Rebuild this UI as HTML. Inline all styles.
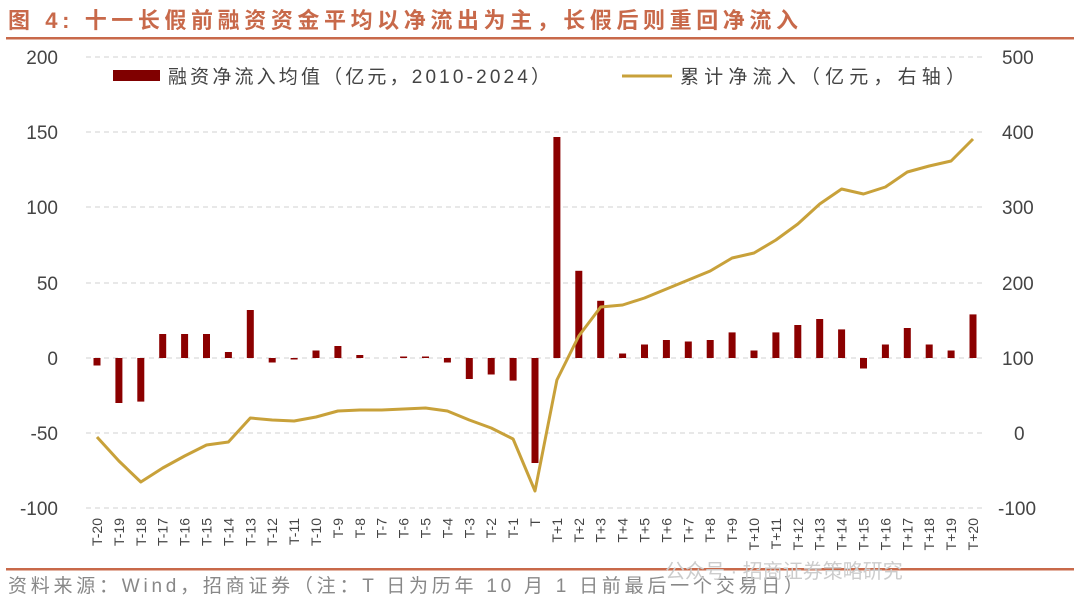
<!DOCTYPE html>
<html><head><meta charset="utf-8"><style>
body{margin:0;background:#fff;}
svg{display:block;font-family:"Liberation Sans","Noto Sans CJK SC",sans-serif;}
</style></head><body>
<svg width="1080" height="612" viewBox="0 0 1080 612">
<text x="8" y="28" font-size="22" font-weight="bold" fill="#c8694a" textLength="790" lengthAdjust="spacing">图 4:  十一长假前融资资金平均以净流出为主，长假后则重回净流入</text>
<rect x="6" y="37" width="1068" height="2.5" fill="#c8694a"/>
<rect x="6" y="568" width="1068" height="2.5" fill="#c8694a"/>
<text x="8" y="592" font-size="19" fill="#888" textLength="795" lengthAdjust="spacing">资料来源：Wind，招商证券（注：T 日为历年 10 月 1 日前最后一个交易日）</text>
<text x="665" y="578" font-size="20" fill="#ccc">公众号 · 招商证券策略研究</text>
<g stroke="#d0d0d0" stroke-dasharray="5,4" stroke-width="1">
<line x1="86" x2="984" y1="57" y2="57"/><line x1="86" x2="984" y1="132" y2="132"/><line x1="86" x2="984" y1="207" y2="207"/><line x1="86" x2="984" y1="283" y2="283"/><line x1="86" x2="984" y1="358" y2="358"/><line x1="86" x2="984" y1="433" y2="433"/><line x1="86" x2="984" y1="508" y2="508"/>
</g>
<g font-size="19" fill="#444" text-anchor="end">
<text x="58" y="64">200</text><text x="58" y="139">150</text><text x="58" y="214">100</text><text x="58" y="290">50</text><text x="58" y="365">0</text><text x="58" y="440">-50</text><text x="58" y="515">-100</text>
</g>
<g font-size="19" fill="#444">
<text x="1002" y="64">500</text><text x="1002" y="139">400</text><text x="1002" y="214">300</text><text x="1002" y="290">200</text><text x="1002" y="365">100</text><text x="1014" y="440">0</text><text x="998" y="515">-100</text>
</g>
<rect x="113" y="70" width="47" height="11" fill="#800000"/>
<text x="168" y="83" font-size="19" fill="#444" textLength="382" lengthAdjust="spacing">融资净流入均值（亿元，2010-2024）</text>
<line x1="622" x2="672" y1="76" y2="76" stroke="#c8a13a" stroke-width="3"/>
<text x="680" y="83" font-size="19" fill="#444" textLength="285" lengthAdjust="spacing">累计净流入（亿元，右轴）</text>
<g fill="#8b0000">
<rect x="93.5" y="358" width="7" height="7.5"/>
<rect x="115.4" y="358" width="7" height="45"/>
<rect x="137.3" y="358" width="7" height="43.6"/>
<rect x="159.2" y="334" width="7" height="24"/>
<rect x="181.1" y="334" width="7" height="24"/>
<rect x="203" y="334" width="7" height="24"/>
<rect x="224.9" y="352" width="7" height="6"/>
<rect x="246.8" y="310" width="7" height="48"/>
<rect x="268.7" y="358" width="7" height="4.5"/>
<rect x="290.6" y="358" width="7" height="1.5"/>
<rect x="312.5" y="350.5" width="7" height="7.5"/>
<rect x="334.4" y="346" width="7" height="12"/>
<rect x="356.3" y="355" width="7" height="3"/>
<rect x="400.1" y="356.5" width="7" height="1.5"/>
<rect x="422" y="356.5" width="7" height="1.5"/>
<rect x="443.9" y="358" width="7" height="4.5"/>
<rect x="465.8" y="358" width="7" height="21"/>
<rect x="487.7" y="358" width="7" height="16.5"/>
<rect x="509.6" y="358" width="7" height="22.6"/>
<rect x="531.5" y="358" width="7" height="105"/>
<rect x="553.4" y="137" width="7" height="221"/>
<rect x="575.3" y="270.8" width="7" height="87.2"/>
<rect x="597.2" y="300.8" width="7" height="57.2"/>
<rect x="619.1" y="353.5" width="7" height="4.5"/>
<rect x="641" y="344.5" width="7" height="13.5"/>
<rect x="662.9" y="340" width="7" height="18"/>
<rect x="684.8" y="341.5" width="7" height="16.5"/>
<rect x="706.7" y="340" width="7" height="18"/>
<rect x="728.6" y="332.4" width="7" height="25.6"/>
<rect x="750.5" y="350.5" width="7" height="7.5"/>
<rect x="772.4" y="332.4" width="7" height="25.6"/>
<rect x="794.3" y="325" width="7" height="33"/>
<rect x="816.2" y="319" width="7" height="39"/>
<rect x="838.1" y="329.4" width="7" height="28.6"/>
<rect x="860" y="358" width="7" height="10.5"/>
<rect x="881.9" y="344.5" width="7" height="13.5"/>
<rect x="903.8" y="328" width="7" height="30"/>
<rect x="925.7" y="344.5" width="7" height="13.5"/>
<rect x="947.6" y="350.5" width="7" height="7.5"/>
<rect x="969.5" y="314.4" width="7" height="43.6"/>
</g>
<polyline fill="none" stroke="#c8a13a" stroke-width="3" stroke-linejoin="round" points="97,437 118.9,461 140.8,482 162.7,468 184.6,456 206.5,445 228.4,442 250.3,418 272.2,420 294.1,421 316,417 337.9,411 359.8,410 381.7,410 403.6,409 425.5,408 447.4,411 469.3,420 491.2,428 513.1,439 535,491 556.9,380 578.8,336 600.7,307 622.6,305 644.5,298 666.4,289 688.3,280 710.2,271 732.1,258 754,253 775.9,240 797.8,224 819.7,204 841.6,189 863.5,194 885.4,187 907.3,172 929.2,166 951.1,161 973,139"/>
<g font-size="14" fill="#444" text-anchor="end">
<text transform="translate(102,518) rotate(-90)">T-20</text>
<text transform="translate(123.9,518) rotate(-90)">T-19</text>
<text transform="translate(145.8,518) rotate(-90)">T-18</text>
<text transform="translate(167.7,518) rotate(-90)">T-17</text>
<text transform="translate(189.6,518) rotate(-90)">T-16</text>
<text transform="translate(211.5,518) rotate(-90)">T-15</text>
<text transform="translate(233.4,518) rotate(-90)">T-14</text>
<text transform="translate(255.3,518) rotate(-90)">T-13</text>
<text transform="translate(277.2,518) rotate(-90)">T-12</text>
<text transform="translate(299.1,518) rotate(-90)">T-11</text>
<text transform="translate(321,518) rotate(-90)">T-10</text>
<text transform="translate(342.9,518) rotate(-90)">T-9</text>
<text transform="translate(364.8,518) rotate(-90)">T-8</text>
<text transform="translate(386.7,518) rotate(-90)">T-7</text>
<text transform="translate(408.6,518) rotate(-90)">T-6</text>
<text transform="translate(430.5,518) rotate(-90)">T-5</text>
<text transform="translate(452.4,518) rotate(-90)">T-4</text>
<text transform="translate(474.3,518) rotate(-90)">T-3</text>
<text transform="translate(496.2,518) rotate(-90)">T-2</text>
<text transform="translate(518.1,518) rotate(-90)">T-1</text>
<text transform="translate(540,518) rotate(-90)">T</text>
<text transform="translate(561.9,518) rotate(-90)">T+1</text>
<text transform="translate(583.8,518) rotate(-90)">T+2</text>
<text transform="translate(605.7,518) rotate(-90)">T+3</text>
<text transform="translate(627.6,518) rotate(-90)">T+4</text>
<text transform="translate(649.5,518) rotate(-90)">T+5</text>
<text transform="translate(671.4,518) rotate(-90)">T+6</text>
<text transform="translate(693.3,518) rotate(-90)">T+7</text>
<text transform="translate(715.2,518) rotate(-90)">T+8</text>
<text transform="translate(737.1,518) rotate(-90)">T+9</text>
<text transform="translate(759,518) rotate(-90)">T+10</text>
<text transform="translate(780.9,518) rotate(-90)">T+11</text>
<text transform="translate(802.8,518) rotate(-90)">T+12</text>
<text transform="translate(824.7,518) rotate(-90)">T+13</text>
<text transform="translate(846.6,518) rotate(-90)">T+14</text>
<text transform="translate(868.5,518) rotate(-90)">T+15</text>
<text transform="translate(890.4,518) rotate(-90)">T+16</text>
<text transform="translate(912.3,518) rotate(-90)">T+17</text>
<text transform="translate(934.2,518) rotate(-90)">T+18</text>
<text transform="translate(956.1,518) rotate(-90)">T+19</text>
<text transform="translate(978,518) rotate(-90)">T+20</text>
</g>
</svg>
</body></html>
